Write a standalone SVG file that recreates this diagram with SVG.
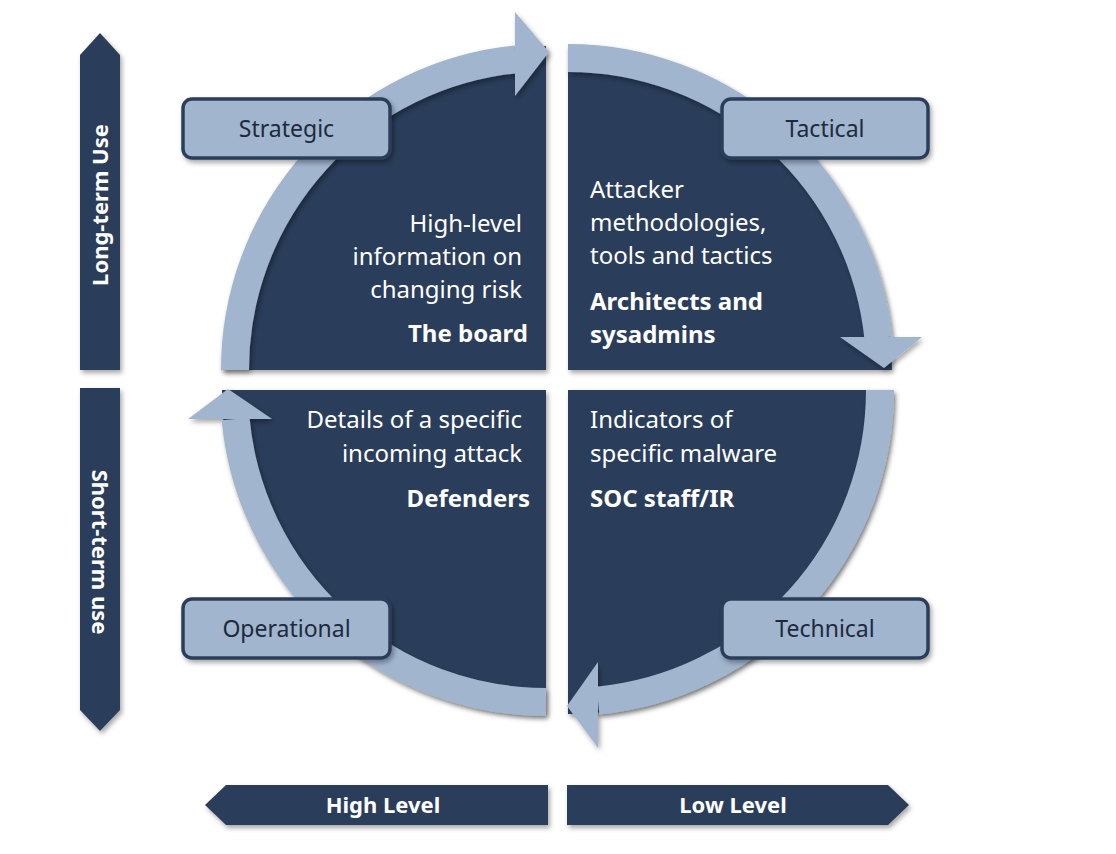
<svg xmlns="http://www.w3.org/2000/svg" width="1116" height="854" viewBox="0 0 1116 854">
<defs>
<filter id="sh" x="-20%" y="-20%" width="140%" height="140%"><feDropShadow dx="2" dy="3" stdDeviation="2.5" flood-color="#000" flood-opacity="0.35"/></filter>
</defs>
<style>
.q{fill:#2c3e5a;filter:url(#sh)}
.ring{fill:none;stroke:#a1b5cf;stroke-width:28}
.head{fill:#a1b5cf}
.box{fill:#a1b5cf;stroke:#2c3e5a;stroke-width:3.5;filter:url(#sh)}
.bl{font-family:"Noto Sans","Open Sans",sans-serif;font-size:23px;fill:#1e2a3c;text-anchor:middle}
.t{font-family:"Noto Sans","Open Sans",sans-serif;font-size:24px;fill:#fff}
.b{font-weight:bold}
.bar{fill:#2c3e5a;filter:url(#sh)}
.bt{font-family:"Noto Sans","Open Sans",sans-serif;font-size:22px;font-weight:bold;fill:#fff;text-anchor:middle}
</style>
<g id="quadrants">
<path class="q" d="M546,370 L546,46 A324,324 0 0 0 222,370 Z"/>
<path class="q" d="M568,370 L568,46 A324,324 0 0 1 892,370 Z"/>
<path class="q" d="M568,390 L892,390 A324,324 0 0 1 568,714 Z"/>
<path class="q" d="M546,390 L546,714 A324,324 0 0 1 222,390 Z"/>
</g>
<g id="connectors" filter="url(#sh)">
<path class="ring" d="M235,370 A312,312 0 0 1 516,59.4"/>
<polygon class="head" points="515,12 549,52 515,96"/>
<path class="ring" d="M568,58 A312,312 0 0 1 878.4,338"/>
<polygon class="head" points="840,337 922,337 884,368"/>
<path class="ring" d="M880,390 A312,312 0 0 1 598,700.6"/>
<polygon class="head" points="598,662 567,706 598,748"/>
<path class="ring" d="M546,702 A312,312 0 0 1 235.6,419"/>
<polygon class="head" points="188,419 272,419 228,389"/>
</g>
<g id="strategic"><rect class="box" x="183" y="99" width="207" height="59" rx="9"/><text class="bl" x="286.5" y="137">Strategic</text></g>
<g id="tactical"><rect class="box" x="722" y="99" width="206" height="59" rx="9"/><text class="bl" x="825" y="137">Tactical</text></g>
<g id="operational"><rect class="box" x="183" y="599" width="207" height="59" rx="9"/><text class="bl" x="286.5" y="637">Operational</text></g>
<g id="technical"><rect class="box" x="722" y="599" width="206" height="59" rx="9"/><text class="bl" x="825" y="637">Technical</text></g>
<g id="tl-text" text-anchor="end">
<text class="t" x="522" y="232">High-level</text>
<text class="t" x="522" y="265">information on</text>
<text class="t" x="522" y="298">changing risk</text>
<text class="t b" x="528" y="342">The board</text>
</g>
<g id="tr-text">
<text class="t" x="590" y="198">Attacker</text>
<text class="t" x="590" y="231">methodologies,</text>
<text class="t" x="590" y="264">tools and tactics</text>
<text class="t b" x="590" y="310">Architects and</text>
<text class="t b" x="590" y="343">sysadmins</text>
</g>
<g id="bl-text" text-anchor="end">
<text class="t" x="522" y="428">Details of a specific</text>
<text class="t" x="522" y="462">incoming attack</text>
<text class="t b" x="530" y="507">Defenders</text>
</g>
<g id="br-text">
<text class="t" x="590" y="428">Indicators of</text>
<text class="t" x="590" y="462">specific malware</text>
<text class="t b" x="590" y="507">SOC staff/IR</text>
</g>
<g id="long-term"><polygon class="bar" points="100,33 120,55 120,370 80,370 80,55"/><text class="bt" transform="translate(108,205) rotate(-90)">Long-term Use</text></g>
<g id="short-term"><polygon class="bar" points="80,388 120,388 120,710 100,731 80,710"/><text class="bt" transform="translate(92,552) rotate(90)">Short-term use</text></g>
<g id="high-level"><polygon class="bar" points="205,805 226,785 548,785 548,825 226,825"/><text class="bt" x="383" y="813">High Level</text></g>
<g id="low-level"><polygon class="bar" points="567,785 888,785 909,805 888,825 567,825"/><text class="bt" x="733" y="813">Low Level</text></g>
</svg>
